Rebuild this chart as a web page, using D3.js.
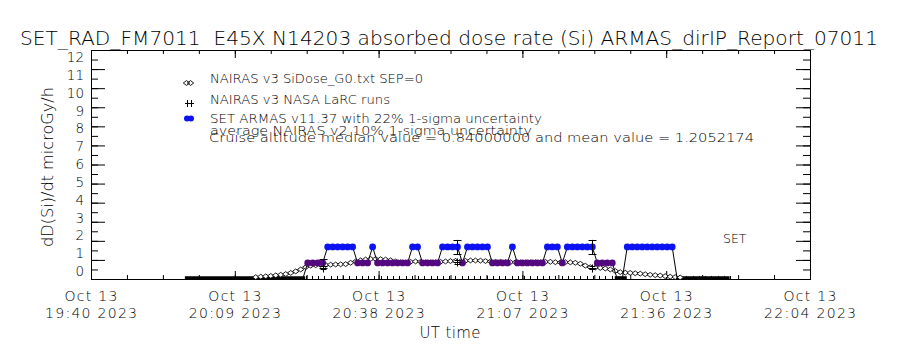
<!DOCTYPE html>
<html><head><meta charset="utf-8">
<script src="https://cdn.jsdelivr.net/npm/d3@7"></script>
<style>
body{margin:0;background:#fff}
svg{display:block}
text{font-family:"DejaVu Sans",sans-serif;font-weight:200;fill:#000;white-space:pre}
</style>
</head><body>
<svg id="c" width="900" height="350"></svg>
<script>
// ---------- data ----------
const titleText = "SET_RAD_FM7011  E45X N14203 absorbed dose rate (Si) ARMAS_dirIP_Report_07011";
const yAxisTitle = "dD(Si)/dt microGy/h";
const xAxisTitle = "UT time";
const yTickValues = [0,1,2,3,4,5,6,7,8,9,10,11,12];
// minutes after 19:40 UT
const xTickMinutes = [0, 28.8, 57.6, 86.4, 115.2, 144];
const xTickDates = ["Oct 13","Oct 13","Oct 13","Oct 13","Oct 13","Oct 13"];
const xTickTimes = ["19:40 2023","20:09 2023","20:38 2023","21:07 2023","21:36 2023","22:04 2023"];
const legendLabels = [
  "NAIRAS v3 SiDose_G0.txt SEP=0",
  "NAIRAS v3 NASA LaRC runs",
  "SET ARMAS v11.37 with 22% 1-sigma uncertainty",
  "average NAIRAS v2 10% 1-sigma uncertainty",
  "Cruise altitude median value = 0.84000000 and mean value = 1.2052174"
];
const setLabel = "SET";

// NAIRAS v3 SiDose (diamonds), 1-min cadence starting at minute 33
const nairasStart = 33;
const nairasSiDose = [0.10,0.12,0.14,0.16,0.19,0.22,0.26,0.32,0.40,0.50,
  0.62,0.70,0.72,0.74,0.74,0.75,0.76,0.77,0.78,0.85,
  0.92,0.98,1.02,1.05,1.05,1.04,1.02,0.98,0.92,0.88,
  0.87,0.90,0.92,0.90,0.88,0.87,0.88,0.90,0.92,0.94,
  0.95,0.92,0.95,0.97,0.97,0.96,0.94,0.92,0.90,0.90,
  0.89,0.88,0.88,0.87,0.87,0.88,0.88,0.88,0.90,0.90,
  0.88,0.87,0.88,0.87,0.85,0.80,0.70,0.62,0.60,0.58,
  0.55,0.50,0.42,0.36,0.33,0.32,0.30,0.28,0.25,0.22,
  0.20,0.18,0.15,0.12,0.10,0.08];

// SET ARMAS dose rate, 1-min cadence starting at minute 42.4
const armasStart = 42.4;
const armasSET = [0,
  0.84,0.84,0.84,0.84,
  1.68,1.68,1.68,1.68,1.68,1.68,
  0.84,0.84,0.84,
  1.68,
  0.84,0.84,0.84,0.84,0.84,0.84,0.84,
  1.68,1.68,
  0.84,0.84,0.84,0.84,
  1.68,1.68,1.68,1.68,
  0.84,
  1.68,1.68,1.68,1.68,1.68,
  0.84,0.84,0.84,0.84,
  1.68,
  0.84,0.84,0.84,0.84,0.84,0.84,
  1.68,1.68,1.68,
  0.84,
  1.68,1.68,1.68,1.68,1.68,1.68,
  0.84,0.84,0.84,0.84,
  0,0,
  1.68,1.68,1.68,1.68,1.68,1.68,1.68,1.68,1.68,1.68,
  0];
const armasUncert = 0.22;

// NAIRAS v3 NASA LaRC runs (plus symbols with 10% bars)
const larcMinutes = [46.4, 73.4, 100.4];
const larcValues = [0.60, 0.90, 0.60];
const larcUncert = 0.10;

// near-zero segments (low-altitude dose)
const lowSegments = [[18.8, 42.9, 0.07], [104.9, 107.3, 0.07], [117.3, 127.9, 0.07]];
// small marks at zero level
const zeroMarkMinutes = [43,44.25,45.5,46.75,48,49.25,50.5,51.75,53,54.25,55.5,56.75,58,59.25,60.5,61.75,
  63,64.25,65.5,66.75,68,69.25,70.5,71.75,73,74.25,75.5,76.75,78,79.25,80.5,81.75,83,84.25,85.5,86.75,
  88,89.25,90.5,91.75,93,94.25,95.5,96.75,98,99.25,100.5,101.75,103,104.25,
  118,119.25,120.5,121.75,123,124.25,125.5,126.75,128];

// ---------- drawing ----------
const plot = {left:91, right:810, top:50, bottom:279};
const blue = "#0c12f4", purple = "#53087f";
const svg = d3.select("#c");
const x = d3.scaleLinear().domain([0,144]).range([plot.left, plot.right]);
const y = d3.scaleLinear().domain([0,12]).range([plot.bottom, plot.top]);
const yLab = d3.scaleLinear().domain([0,12]).range([276, 62]);

function strip(g){
  g.select(".domain").remove();
  g.selectAll("text").remove();
  g.selectAll("line").attr("stroke","#000");
}
const xMinor = d3.range(0, 144.01, 7.2);
const yMinor = d3.range(0, 12.01, 0.5);
svg.append("g").attr("transform",`translate(0,${plot.bottom})`)
  .call(d3.axisBottom(x).tickValues(xTickMinutes).tickSize(-8).tickFormat("")).call(strip);
svg.append("g").attr("transform",`translate(0,${plot.bottom})`)
  .call(d3.axisBottom(x).tickValues(xMinor).tickSize(-4).tickFormat("")).call(strip);
svg.append("g").attr("transform",`translate(0,${plot.top})`)
  .call(d3.axisTop(x).tickValues(xTickMinutes).tickSize(-8).tickFormat("")).call(strip);
svg.append("g").attr("transform",`translate(0,${plot.top})`)
  .call(d3.axisTop(x).tickValues(xMinor).tickSize(-4).tickFormat("")).call(strip);
svg.append("g").attr("transform",`translate(${plot.left},0)`)
  .call(d3.axisLeft(y).tickValues(yTickValues).tickSize(-14).tickFormat("")).call(strip);
svg.append("g").attr("transform",`translate(${plot.left},0)`)
  .call(d3.axisLeft(y).tickValues(yMinor).tickSize(-7).tickFormat("")).call(strip);
svg.append("g").attr("transform",`translate(${plot.right},0)`)
  .call(d3.axisRight(y).tickValues(yTickValues).tickSize(-14).tickFormat("")).call(strip);
svg.append("g").attr("transform",`translate(${plot.right},0)`)
  .call(d3.axisRight(y).tickValues(yMinor).tickSize(-7).tickFormat("")).call(strip);

svg.append("rect").attr("x",plot.left+0.5).attr("y",plot.top+0.5)
  .attr("width",plot.right-plot.left).attr("height",plot.bottom-plot.top)
  .attr("fill","none").attr("stroke","#000");

// y tick labels
svg.append("g").selectAll("text").data(yTickValues).join("text")
  .attr("x",84).attr("y",d=>yLab(d)).attr("text-anchor","end")
  .attr("font-size",13.5).text(d=>d);

// x tick labels
const xl = svg.append("g").selectAll("g").data(xTickMinutes).join("g");
xl.append("text").attr("x",d=>x(d)).attr("y",301).attr("text-anchor","middle")
  .attr("font-size",14).attr("textLength",53).attr("lengthAdjust","spacing")
  .text((d,i)=>xTickDates[i]);
xl.append("text").attr("x",d=>x(d)).attr("y",318).attr("text-anchor","middle")
  .attr("font-size",14).attr("textLength",92).attr("lengthAdjust","spacing")
  .text((d,i)=>xTickTimes[i]);

svg.append("text").attr("x",450).attr("y",338).attr("text-anchor","middle")
  .attr("font-size",15).attr("textLength",61).text(xAxisTitle);
svg.append("text").attr("transform","translate(53,167) rotate(-90)")
  .attr("text-anchor","middle").attr("font-size",15).attr("textLength",160)
  .attr("lengthAdjust","spacingAndGlyphs").text(yAxisTitle);
svg.append("text").attr("x",20).attr("y",45).attr("font-size",20)
  .attr("textLength",858).attr("lengthAdjust","spacingAndGlyphs").text(titleText);

// clip
svg.append("clipPath").attr("id","clp").append("rect")
  .attr("x",plot.left).attr("y",plot.top).attr("width",plot.right-plot.left).attr("height",plot.bottom-plot.top+1);
const P = svg.append("g").attr("clip-path","url(#clp)");

// low segments
P.selectAll("line.low").data(lowSegments).join("line").attr("class","low")
  .attr("x1",d=>x(d[0])).attr("x2",d=>x(d[1])).attr("y1",d=>y(d[2])).attr("y2",d=>y(d[2]))
  .attr("stroke","#000").attr("stroke-width",3);
// zero marks
P.selectAll("line.zm").data(zeroMarkMinutes).join("line").attr("class","zm")
  .attr("x1",d=>Math.round(x(d))+0.5).attr("x2",d=>Math.round(x(d))+0.5)
  .attr("y1",y(0)).attr("y2",y(0.16)).attr("stroke","#000");

// diamonds
const dia = "M0,-2.4L3.2,0L0,2.4L-3.2,0Z";
P.selectAll("path.dia").data(nairasSiDose).join("path").attr("class","dia")
  .attr("d",dia).attr("transform",(d,i)=>`translate(${x(nairasStart+i)},${y(d)})`)
  .attr("fill","#fff").attr("stroke","#000").attr("stroke-width",0.9);

// ARMAS line
const armasPts = armasSET.map((v,i)=>[armasStart+i, v]);
P.append("path").datum(armasPts)
  .attr("d",d3.line().x(d=>x(d[0])).y(d=>y(d[1])))
  .attr("fill","none").attr("stroke","#000").attr("stroke-width",1);
P.selectAll("circle.ar").data(armasPts.filter(d=>d[1]>0)).join("circle").attr("class","ar")
  .attr("cx",d=>x(d[0])).attr("cy",d=>y(d[1])).attr("r",3.4)
  .attr("fill",d=>d[1]>1.2?blue:purple);

// ARMAS error bars
const errG = P.append("g").attr("stroke","#000").attr("stroke-width",1);
larcMinutes.forEach(m=>{
  const v = armasPts.find(p=>Math.abs(p[0]-m)<0.01)[1];
  const cx = Math.round(x(m))+0.5;
  const lo = y(v*(1-armasUncert)), hi = y(v*(1+armasUncert));
  errG.append("line").attr("x1",cx).attr("x2",cx).attr("y1",lo).attr("y2",hi);
  errG.append("line").attr("x1",cx-4).attr("x2",cx+4).attr("y1",Math.round(lo)+0.5).attr("y2",Math.round(lo)+0.5);
  errG.append("line").attr("x1",cx-4).attr("x2",cx+4).attr("y1",Math.round(hi)+0.5).attr("y2",Math.round(hi)+0.5);
});
// LaRC plus symbols with 10% bars
larcMinutes.forEach((m,i)=>{
  const v = larcValues[i];
  const cx = Math.round(x(m))+0.5, cy = Math.round(y(v))+0.5;
  const lo = Math.round(y(v*(1-larcUncert)))+0.5, hi = Math.round(y(v*(1+larcUncert)))+0.5;
  errG.append("line").attr("x1",cx-4).attr("x2",cx+4).attr("y1",cy).attr("y2",cy);
  errG.append("line").attr("x1",cx).attr("x2",cx).attr("y1",cy-4).attr("y2",cy+4);
  errG.append("line").attr("x1",cx-3).attr("x2",cx+3).attr("y1",lo).attr("y2",lo);
  errG.append("line").attr("x1",cx-3).attr("x2",cx+3).attr("y1",hi).attr("y2",hi);
});

// SET label
svg.append("text").attr("x",723).attr("y",243).attr("font-size",12.5).text(setLabel);

// legend
const legY = [83, 104, 123, 135, 142];
const legW = [213, 180, 332, 322, 545];
svg.append("g").selectAll("text").data(legendLabels).join("text")
  .attr("x",(d,i)=>i===4?209:210).attr("y",(d,i)=>legY[i]).attr("font-size",12.5)
  .attr("textLength",(d,i)=>legW[i]).attr("lengthAdjust","spacingAndGlyphs").text(d=>d);
const LG = svg.append("g");
[186.5,190.5].forEach(cx=>LG.append("path").attr("d",dia)
  .attr("transform",`translate(${cx},83)`).attr("fill","none").attr("stroke","#000").attr("stroke-width",0.9));
LG.append("line").attr("x1",185).attr("x2",194).attr("y1",103.5).attr("y2",103.5).attr("stroke","#000");
[187.5,191.5].forEach(cx=>LG.append("line").attr("x1",cx).attr("x2",cx).attr("y1",100).attr("y2",107).attr("stroke","#000"));
[187,191].forEach(cx=>LG.append("circle").attr("cx",cx).attr("cy",118.5).attr("r",3).attr("fill",blue));
</script>
</body></html>
